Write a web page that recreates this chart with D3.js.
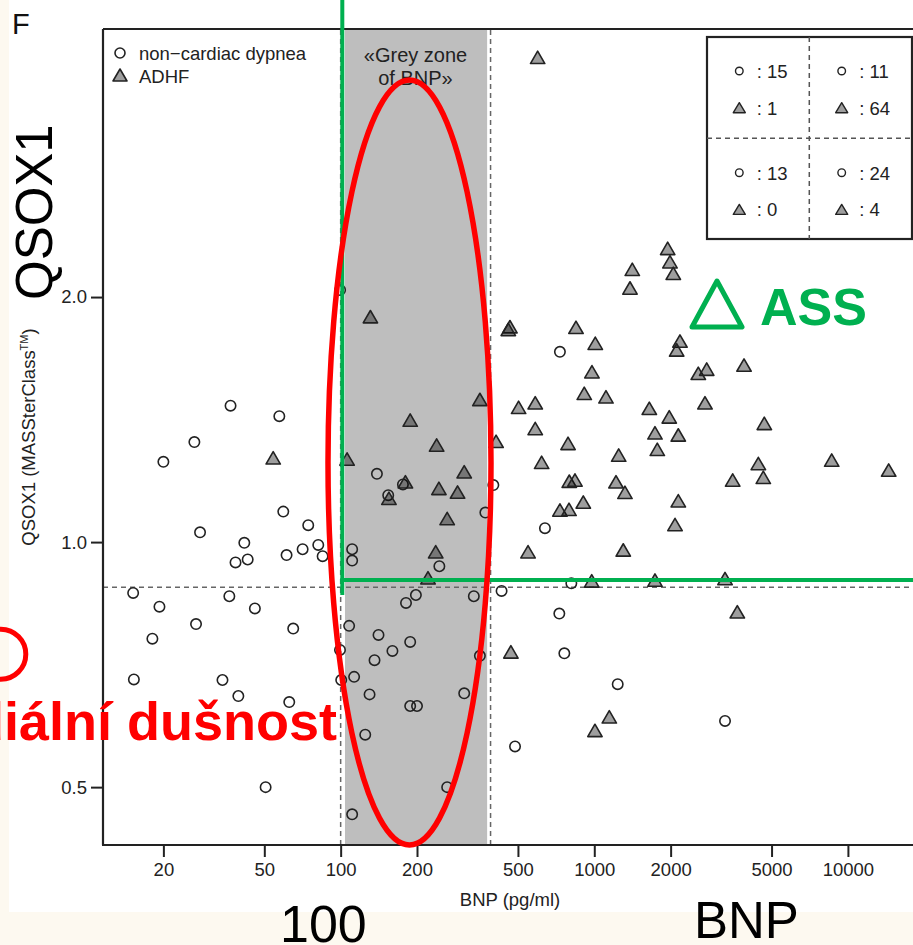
<!DOCTYPE html>
<html>
<head>
<meta charset="utf-8">
<script src="https://cdn.jsdelivr.net/npm/d3@7"></script>
<style>
  body { margin: 0; background: #fdf9f0; }
  svg { display: block; }
</style>
</head>
<body>
<svg id="chart" width="913" height="945"></svg>
<script>
// ---- data -------------------------------------------------------------
// [BNP (pg/ml), QSOX1] per patient
const nonCardiac = [
  [36.8,1.471],[57.3,1.428],[26.5,1.327],[20.0,1.255],[59.4,1.090],[74.5,1.049],
  [27.9,1.028],[41.7,0.998],[38.5,0.944],[43.0,0.952],[61.2,0.964],[70.8,0.980],
  [81.6,0.992],[84.9,0.961],[99.5,2.040],
  [15.2,0.866],[19.3,0.833],[18.1,0.761],[26.9,0.793],[36.4,0.858],[45.9,0.829],
  [65.0,0.783],[15.3,0.678],[34.2,0.677],[39.5,0.647],[62.7,0.636],[50.6,0.500],
  [99.4,0.737],
  [732,1.713],[139,1.213],[176,1.177],[154,1.142],[400,1.175],[372,1.087],
  [639,1.040],[111,0.980],[111,0.949],[245,0.934],[812,0.890],
  [431,0.871],[198,0.861],[181,0.842],[335,0.858],[108,0.789],[141,0.769],
  [160,0.735],[188,0.754],[136,0.716],[354,0.725],[113,0.683],[130,0.650],
  [307,0.652],[188,0.629],[200,0.629],[125,0.580],[263,0.500],[111,0.463],
  [728,0.817],[762,0.730],[487,0.561],[1237,0.669],[3277,0.603],[100.5,0.677]
];
const adhf = [
  [54.2,1.269],
  [469,0.733],[3664,0.821],[1146,0.610],[1006,0.587],
  [131,1.892],[465,1.839],[458,1.825],[847,1.836],[1009,1.755],[979,1.619],
  [913,1.523],[1112,1.508],[1383,2.052],[354,1.497],[503,1.464],[585,1.483],
  [188,1.412],[585,1.379],[106,1.265],[410,1.330],[239,1.316],[788,1.322],
  [1248,1.279],[620,1.253],[307,1.220],[180,1.186],[155,1.132],[244,1.164],
  [289,1.152],[797,1.188],[839,1.192],[1218,1.186],[1321,1.151],[905,1.120],
  [732,1.095],[795,1.097],[263,1.069],[237,0.973],[548,0.973],[1301,0.978],
  [221,0.904],[977,0.896],[2177,1.766],[2113,1.722],[2571,1.612],[2775,1.631],
  [3894,1.650],[2732,1.483],[1648,1.460],[1975,1.425],[4681,1.399],[1735,1.362],
  [2144,1.354],[1772,1.300],[4434,1.249],[4639,1.201],[8632,1.261],[14480,1.226],
  [3513,1.192],[2144,1.124],[2081,1.051],[1735,0.898],[3277,0.902],[1947,2.295],
  [1988,2.210],[2049,2.139],[1412,2.163],[598,3.94]
];
const xTicks = [20, 50, 100, 200, 500, 1000, 2000, 5000, 10000];
const yTicks = [0.5, 1.0, 2.0];
const bnpCutoffs = [100, 390];     // dashed vertical lines
const greyZone = [104, 378];       // shaded BNP band
const qsoxCutoff = 0.88;           // dashed horizontal line
const seriesNames = ["non\u2212cardiac dypnea", "ADHF"];

// ---- setup ------------------------------------------------------------
const W = 913, H = 945;
const FONT = '"Liberation Sans", Arial, Helvetica, sans-serif';
const INK = "#222";
const svg = d3.select("#chart");

svg.append("rect").attr("width", W).attr("height", H).attr("fill", "#fdf9f0");
svg.append("rect").attr("x", 9).attr("y", 0).attr("width", W - 9).attr("height", 912).attr("fill", "#fff");

const plot = { left: 103, right: 916, top: 29, bottom: 845 };
const x = d3.scaleLog().domain([11.56, 18556]).range([plot.left, plot.right]);
const y = d3.scaleLog().domain([0.4245, 4.269]).range([plot.bottom, plot.top]);

const tri = (cx, cy, hw, hh) =>
  `M${cx},${cy - hh}L${cx + hw},${cy + hh}L${cx - hw},${cy + hh}Z`;

// grey zone band
svg.append("rect")
  .attr("x", x(greyZone[0])).attr("y", plot.top + 1)
  .attr("width", x(greyZone[1]) - x(greyZone[0]))
  .attr("height", plot.bottom - plot.top - 1)
  .attr("fill", "#bebebe");

// cutoff lines
const cut = svg.append("g").attr("stroke", "#666").attr("stroke-width", 1.5)
  .attr("stroke-dasharray", "5,4").attr("fill", "none");
bnpCutoffs.forEach(b => cut.append("line")
  .attr("x1", x(b)).attr("x2", x(b)).attr("y1", plot.top + 1).attr("y2", plot.bottom));
cut.append("line").attr("x1", plot.left).attr("x2", plot.right)
  .attr("y1", y(qsoxCutoff)).attr("y2", y(qsoxCutoff));

// points
svg.append("g").selectAll("circle").data(nonCardiac).join("circle")
  .attr("cx", d => x(d[0])).attr("cy", d => y(d[1])).attr("r", 5.2)
  .attr("fill", "none").attr("stroke", INK).attr("stroke-width", 1.6);
svg.append("g").selectAll("path").data(adhf).join("path")
  .attr("d", d => tri(x(d[0]), y(d[1]), 7.2, 6.2))
  .attr("fill", "rgba(0,0,0,0.38)").attr("stroke", INK).attr("stroke-width", 1.6)
  .attr("stroke-linejoin", "round");

// axes
const xAxis = svg.append("g").attr("transform", `translate(0,${plot.bottom})`)
  .call(d3.axisBottom(x).tickValues(xTicks).tickFormat(d3.format("d")).tickSize(12).tickPadding(6));
const yAxis = svg.append("g").attr("transform", `translate(${plot.left},0)`)
  .call(d3.axisLeft(y).tickValues(yTicks).tickFormat(d3.format(".1f")).tickSize(12).tickPadding(4));
[xAxis, yAxis].forEach(a => {
  a.select(".domain").remove();
  a.selectAll("line").attr("stroke", INK).attr("stroke-width", 2);
  a.selectAll("text").attr("fill", INK).style("font-family", FONT).style("font-size", "18.5px");
});

// frame
svg.append("path")
  .attr("d", `M${plot.left},${plot.top}H${plot.right}M${plot.left},${plot.top}V${plot.bottom}M${plot.left - 1},${plot.bottom}H${plot.right}`)
  .attr("stroke", INK).attr("stroke-width", 2.2).attr("fill", "none");

// axis titles
svg.append("text").attr("x", 510).attr("y", 906).attr("text-anchor", "middle")
  .style("font-family", FONT).style("font-size", "18.5px").attr("fill", INK)
  .text("BNP (pg/ml)");
const yt = svg.append("text").attr("transform", "translate(35,437) rotate(-90)")
  .attr("text-anchor", "middle").style("font-family", FONT).style("font-size", "18.5px").attr("fill", INK);
yt.append("tspan").text("QSOX1 (MASSterClass");
yt.append("tspan").attr("dy", -7).style("font-size", "11px").text("TM");
yt.append("tspan").attr("dy", 7).text(")");

// grey zone caption
const gz = svg.append("text").attr("text-anchor", "middle").style("font-family", FONT)
  .style("font-size", "20px").attr("fill", INK);
gz.append("tspan").attr("x", 415.5).attr("y", 62).text("\u00abGrey zone");
gz.append("tspan").attr("x", 415.5).attr("y", 85).text("of BNP\u00bb");

// series legend
const lg = svg.append("g");
lg.append("circle").attr("cx", 120).attr("cy", 53).attr("r", 5)
  .attr("fill", "none").attr("stroke", INK).attr("stroke-width", 1.6);
lg.append("path").attr("d", tri(120, 75, 7, 6)).attr("fill", "rgba(0,0,0,0.38)")
  .attr("stroke", INK).attr("stroke-width", 1.6).attr("stroke-linejoin", "round");
seriesNames.forEach((s, i) => lg.append("text").attr("x", 139).attr("y", 60 + 22.5 * i)
  .style("font-family", FONT).style("font-size", "18.5px").attr("fill", INK).text(s));

// quadrant count box
const inTop = d => d[1] >= qsoxCutoff, inRight = d => d[0] >= bnpCutoffs[0];
const count = (arr, top, right) => arr.filter(d => inTop(d) === top && inRight(d) === right).length;
const box = { x0: 707, x1: 912, y0: 37, y1: 239 };
const midX = 809.3, midY = 138.3;
svg.append("rect").attr("x", box.x0).attr("y", box.y0)
  .attr("width", box.x1 - box.x0).attr("height", box.y1 - box.y0)
  .attr("fill", "#fff").attr("stroke", INK).attr("stroke-width", 2.2);
const bd = svg.append("g").attr("stroke", "#555").attr("stroke-width", 1.5).attr("stroke-dasharray", "5,4");
bd.append("line").attr("x1", midX).attr("x2", midX).attr("y1", box.y0).attr("y2", box.y1);
bd.append("line").attr("x1", box.x0).attr("x2", box.x1).attr("y1", midY).attr("y2", midY);
const cells = [
  { top: true,  right: false, mx: 739.3, cy: 71 },
  { top: true,  right: true,  mx: 841.7, cy: 71 },
  { top: false, right: false, mx: 739.3, cy: 172.7 },
  { top: false, right: true,  mx: 841.7, cy: 172.7 }
];
cells.forEach(c => {
  svg.append("circle").attr("cx", c.mx).attr("cy", c.cy).attr("r", 3.8)
    .attr("fill", "none").attr("stroke", INK).attr("stroke-width", 1.4);
  svg.append("path").attr("d", tri(c.mx, c.cy + 36.7, 6, 5)).attr("fill", "rgba(0,0,0,0.38)")
    .attr("stroke", INK).attr("stroke-width", 1.4).attr("stroke-linejoin", "round");
  svg.append("text").attr("x", c.mx + 17.5).attr("y", c.cy + 6.8)
    .style("font-family", FONT).style("font-size", "18.5px").attr("fill", INK)
    .text(": " + count(nonCardiac, c.top, c.right));
  svg.append("text").attr("x", c.mx + 17.5).attr("y", c.cy + 36.7 + 6.8)
    .style("font-family", FONT).style("font-size", "18.5px").attr("fill", INK)
    .text(": " + count(adhf, c.top, c.right));
});

// ---- annotations --------------------------------------------------------
svg.append("text").attr("x", 12).attr("y", 34).style("font-family", FONT)
  .style("font-size", "29px").attr("fill", "#111").text("F");

const GREEN = "#00b050", RED = "#ff0000";
svg.append("line").attr("x1", 342.3).attr("x2", 342.3).attr("y1", 0).attr("y2", 595)
  .attr("stroke", GREEN).attr("stroke-width", 4);
svg.append("line").attr("x1", 340.3).attr("x2", W).attr("y1", 580).attr("y2", 580)
  .attr("stroke", GREEN).attr("stroke-width", 4);
svg.append("path").attr("d", "M717,281L742,327L692,327Z").attr("fill", "none")
  .attr("stroke", GREEN).attr("stroke-width", 5).attr("stroke-linejoin", "round");
svg.append("text").attr("x", 760).attr("y", 325).style("font-family", FONT)
  .style("font-size", "52px").style("font-weight", "bold").attr("fill", GREEN).text("ASS");

svg.append("ellipse").attr("cx", 409.5).attr("cy", 462.5).attr("rx", 81.5).attr("ry", 382.5)
  .attr("fill", "none").attr("stroke", RED).attr("stroke-width", 5.5);
svg.append("circle").attr("cx", 0.8).attr("cy", 654.2).attr("r", 25)
  .attr("fill", "none").attr("stroke", RED).attr("stroke-width", 5);
svg.append("text").attr("x", 337).attr("y", 740).attr("text-anchor", "end")
  .style("font-family", FONT).style("font-size", "54px").style("font-weight", "bold")
  .attr("fill", RED).text("Nekardi\u00e1ln\u00ed du\u0161nost");

svg.append("text").attr("transform", "translate(52,300) rotate(-90)")
  .style("font-family", FONT).style("font-size", "51px").attr("fill", "#000").text("QSOX1");
svg.append("text").attr("x", 280).attr("y", 942).style("font-family", FONT)
  .style("font-size", "52px").attr("fill", "#000").text("100");
svg.append("text").attr("x", 694).attr("y", 938).style("font-family", FONT)
  .style("font-size", "51px").attr("fill", "#000").text("BNP");
</script>
</body>
</html>
